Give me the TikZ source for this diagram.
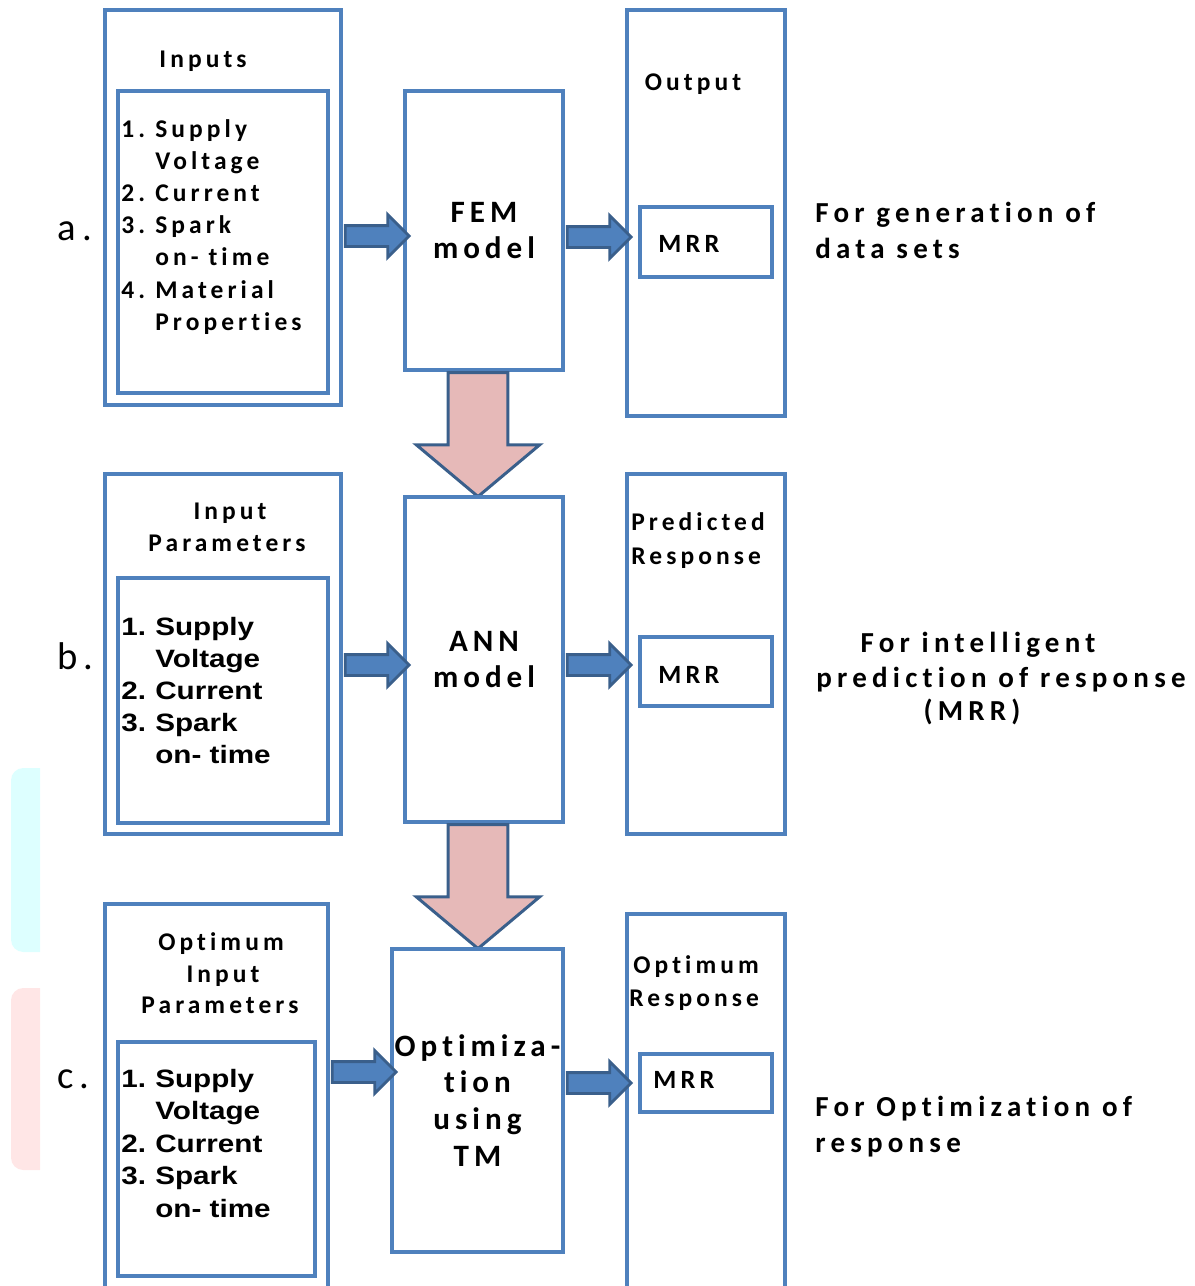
\documentclass[tikz,border=0pt]{standalone}
\usepackage{fontspec}
\setmainfont{Carlito}
\newfontfamily\trk{Carlito}[LetterSpace=16, Ligatures={NoCommon,NoContextual}]
\newfontfamily\trkw{Carlito}[LetterSpace=18, Ligatures={NoCommon,NoContextual}]
\newfontfamily\arl{Liberation Sans}[FakeStretch=1.18]
\usetikzlibrary{shapes.arrows}
\definecolor{boxblue}{HTML}{4F81BD}
\definecolor{edgeblue}{HTML}{3A5F8B}
\definecolor{flowpink}{HTML}{E6B9B8}
\definecolor{faintcyan}{HTML}{DDFFFF}
\definecolor{faintpink}{HTML}{FFE6E6}
\newcommand{\itm}[2]{\makebox[0.68cm][l]{#1}#2}
\tikzset{
  box/.style={draw=boxblue, line width=2.2pt, inner sep=0pt, align=center},
  ttlfont/.style={font=\trk\bfseries\fontsize{17.7}{21}\selectfont},
  hdr/.style={font=\trk\bfseries\fontsize{14.5}{18}\selectfont, inner sep=0pt, anchor=base},
  lsta/.style={hdr, anchor=base west},
  lstb/.style={font=\arl\bfseries\fontsize{14.3}{18}\selectfont, inner sep=0pt, anchor=base west},
  note/.style={font=\trkw\bfseries\fontsize{16.5}{21}\selectfont, inner sep=0pt, anchor=base west},
  mrr/.style={font=\trk\bfseries\fontsize{15}{18}\selectfont, inner sep=0pt, anchor=base west},
  tag/.style={font=\trk\fontsize{22}{26}\selectfont, inner sep=0pt, anchor=base west},
  rarrow/.style={single arrow, draw=edgeblue, fill=boxblue, line width=1.6pt,
    minimum height=1.28cm, minimum width=0.80cm, single arrow head extend=0.22cm,
    inner xsep=0pt, inner ysep=0.18cm},
  darrow/.style={single arrow, draw=edgeblue, fill=flowpink, line width=1.7pt,
    shape border rotate=270, minimum height=2.48cm, minimum width=2.40cm,
    single arrow head extend=0.63cm, single arrow tip angle=100,
    inner ysep=0pt, inner xsep=0.57cm}
}

\begin{document}
\begin{tikzpicture}[x=0.02cm, y=-0.02cm]
    \useasboundingbox (0,0) rectangle (1195,1286);

    % faint marks on the left edge
    \fill[faintcyan] (40,768) [rounded corners=7pt] -- (11,768) -- (11,952) [sharp corners] -- (40,952) -- cycle;
    \fill[faintpink] (40,988) [rounded corners=7pt] -- (11,988) -- (11,1170) [sharp corners] -- (40,1170) -- cycle;

    % row a
    \node[box, minimum width=4.72cm, minimum height=7.9cm] (inA) at (223,207.5) {};
    \node[box, minimum width=4.2cm, minimum height=6.04cm] (inAl) at (223,242) {};
    \node[box, ttlfont, minimum width=3.16cm, minimum height=5.58cm] (fem) at (484,230.5) {FEM\\model};
    \node[box, minimum width=3.16cm, minimum height=8.12cm] (outA) at (706,213) {};
    \node[box, minimum width=2.64cm, minimum height=1.4cm] (mrrA) at (706,242) {};

    \node[tag] (tagA) at (57,240) {a.};
    \node[hdr] (hInA) at (203,67) {Inputs};
    \foreach \nr/\tx [count=\i from 0] in {1./Supply, /Voltage, 2./Current, 3./Spark, /on- time, 4./Material, /Properties}
        \node[lsta] (la\i) at (121,137+32.2*\i) {\itm{\nr}{\tx}};
    \node[hdr] (hOutA) at (693,90) {Output};
    \node[mrr] (tMrrA) at (658,252) {MRR};
    \node[note] (nA1) at (815,222) {For generation of};
    \node[note] (nA2) at (815,258) {data sets};

    \node[rarrow] (arA1) at (372,236) {};
    \node[rarrow] (arA2) at (594,237) {};

    \node[darrow] (dnA) at (478,422) {};

    % row b
    \node[box, minimum width=4.72cm, minimum height=7.2cm] (inB) at (223,654) {};
    \node[box, minimum width=4.2cm, minimum height=4.9cm] (inBl) at (223,700.5) {};
    \node[box, ttlfont, minimum width=3.16cm, minimum height=6.5cm] (ann) at (484,659.5) {ANN\\model};
    \node[box, minimum width=3.16cm, minimum height=7.2cm] (outB) at (706,654) {};
    \node[box, minimum width=2.64cm, minimum height=1.38cm] (mrrB) at (706,671.5) {};

    \node[tag] (tagB) at (57,669) {b.};
    \node[hdr] (hInB1) at (230,519) {Input};
    \node[hdr] (hInB2) at (227,551) {Parameters};
    \foreach \nr/\tx [count=\i from 0] in {1./Supply, /Voltage, 2./Current, 3./Spark, /on- time}
        \node[lstb] (lb\i) at (121,635+32.2*\i) {\itm{\nr}{\tx}};
    \node[hdr, anchor=base west] (hOutB1) at (631,530) {Predicted};
    \node[hdr, anchor=base west] (hOutB2) at (631,564) {Response};
    \node[mrr] (tMrrB) at (658,683) {MRR};
    \node[note, anchor=base] (nB1) at (978,652) {For intelligent};
    \node[note, anchor=base] (nB2) at (1001,687) {prediction of response};
    \node[note, anchor=base] (nB3) at (972,720) {(MRR)};

    \node[rarrow] (arB1) at (372,665) {};
    \node[rarrow] (arB2) at (594,665) {};

    \node[darrow] (dnB) at (478,874) {};

    % row c
    \node[box, minimum width=4.46cm, minimum height=7.84cm] (inC) at (216.5,1100) {};
    \node[box, minimum width=3.94cm, minimum height=4.68cm] (inCl) at (216.5,1159) {};
    \node[box, ttlfont, minimum width=3.42cm, minimum height=6.06cm] (opt) at (477.5,1100.5) {Optimiza-\\tion\\using\\TM};
    \node[box, minimum width=3.16cm, minimum height=7.64cm] (outC) at (706,1105) {};
    \node[box, minimum width=2.64cm, minimum height=1.16cm] (mrrC) at (706,1083) {};

    \node[tag] (tagC) at (57,1088) {c.};
    \node[hdr] (hInC1) at (221,950) {Optimum};
    \node[hdr] (hInC2) at (223,982) {Input};
    \node[hdr] (hInC3) at (220,1013) {Parameters};
    \foreach \nr/\tx [count=\i from 0] in {1./Supply, /Voltage, 2./Current, 3./Spark, /on- time}
        \node[lstb] (lc\i) at (121,1087+32.5*\i) {\itm{\nr}{\tx}};
    \node[hdr, anchor=base west] (hOutC1) at (633,973) {Optimum};
    \node[hdr, anchor=base west] (hOutC2) at (629,1006) {Response};
    \node[mrr] (tMrrC) at (653,1088) {MRR};
    \node[note] (nC1) at (815,1116) {For Optimization of};
    \node[note] (nC2) at (815,1152) {response};

    \node[rarrow] (arC1) at (359,1072) {};
    \node[rarrow] (arC2) at (594,1083) {};

\end{tikzpicture}
\end{document}
